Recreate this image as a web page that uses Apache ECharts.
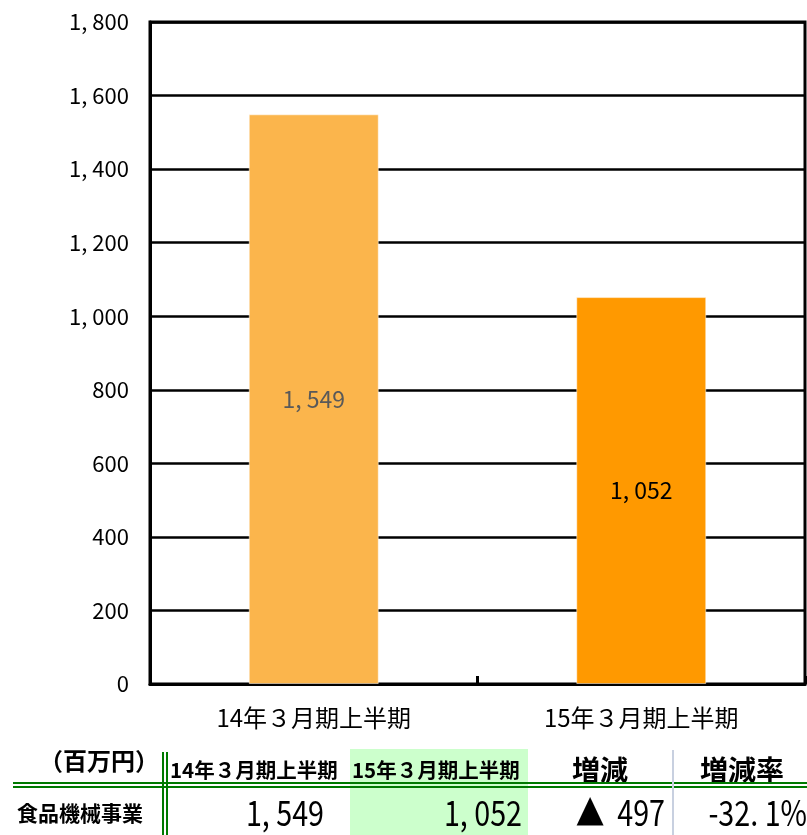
<!DOCTYPE html>
<html>
<head>
<meta charset="utf-8">
<script src="https://cdn.jsdelivr.net/npm/echarts@6/dist/echarts.min.js"></script>
<style>
  html, body { margin: 0; padding: 0; background: #fff; }
  #chart { width: 807px; height: 835px; }
</style>
</head>
<body>
<div id="chart"></div>
<script>
// data
const categories = ['14年３月期上半期', '15年３月期上半期']
const values = [1549, 1052]
const barColors = ['#FBB54C', '#FF9900']
const labelColors = ['#595959', '#000000']
const yTicks = [0, 200, 400, 600, 800, 1000, 1200, 1400, 1600, 1800]
const unitLabel = '（百万円）'
const rowLabel = '食品機械事業'
const diffHeaders = ['増減', '増減率']

const NUM_FONT = "'Liberation Sans Narrow', 'Noto Sans CJK JP', sans-serif"
const fmt = (v) => Math.abs(v).toLocaleString('en-US').replace(',', ', ')

const diff = values[1] - values[0]
const rate = (diff / values[0] * 100).toFixed(1)
const diffText = (diff < 0 ? '▲  ' : '') + fmt(diff)
const rateText = rate.replace('.', '. ') + '%'

const chart = echarts.init(document.getElementById('chart'))

const txt = (x, y, text, size, opts = {}, scaleX = 1) => ({
  type: 'text',
  x, y,
  scaleX,
  style: Object.assign({
    text,
    fontSize: size,
    fontFamily: NUM_FONT,
    fill: '#000',
    align: 'left',
    verticalAlign: 'middle'
  }, opts)
})

const line = (x1, y1, x2, y2, stroke, w) => ({
  type: 'line',
  shape: { x1, y1, x2, y2 },
  style: { stroke, lineWidth: w }
})

chart.setOption({
  animation: false,
  grid: {
    left: 150,
    right: 2,
    top: 22,
    bottom: 151,
    show: true,
    borderColor: '#000',
    borderWidth: 3
  },
  xAxis: {
    type: 'category',
    data: categories,
    axisLine: { lineStyle: { color: '#000', width: 3 } },
    axisTick: { show: true, inside: true, length: 8, lineStyle: { color: '#000', width: 3 } },
    axisLabel: {
      fontSize: 24,
      fontFamily: NUM_FONT,
      color: '#000',
      margin: 22
    }
  },
  yAxis: {
    type: 'value',
    min: yTicks[0],
    max: yTicks[yTicks.length - 1],
    interval: 200,
    axisLine: { show: true, lineStyle: { color: '#000', width: 3 } },
    axisTick: { show: false },
    splitLine: { lineStyle: { color: '#000', width: 2.5 } },
    axisLabel: {
      fontSize: 22,
      fontFamily: NUM_FONT,
      color: '#000',
      margin: 21,
      formatter: (v) => fmt(v)
    }
  },
  series: [
    {
      type: 'bar',
      barWidth: 130,
      data: values.map((v, i) => ({
        value: v,
        itemStyle: { color: barColors[i], borderColor: 'rgba(255,255,255,0.5)', borderWidth: 1 },
        label: { color: labelColors[i] }
      })),
      label: {
        show: true,
        position: 'inside',
        fontSize: 23,
        fontFamily: NUM_FONT,
        formatter: (p) => fmt(p.value)
      }
    }
  ],
  graphic: [
    // table background for current period
    { type: 'rect', shape: { x: 350, y: 749, width: 178, height: 86 }, style: { fill: '#CCFFCC' } },
    // header row
    txt(39, 761, unitLabel, 24, { fontWeight: 'bold' }),
    txt(170, 770, categories[0], 20.5, { fontWeight: 'bold' }),
    txt(352, 770, categories[1], 20.5, { fontWeight: 'bold' }),
    txt(600, 770, diffHeaders[0], 28, { fontWeight: 'bold', align: 'center' }),
    txt(742, 770, diffHeaders[1], 28, { fontWeight: 'bold', align: 'center' }),
    // double green rules
    line(13, 783, 807, 783, '#007A00', 2),
    line(13, 787, 807, 787, '#007A00', 2),
    line(163, 752, 163, 835, '#007A00', 2),
    line(167, 752, 167, 835, '#007A00', 2),
    line(673, 750, 673, 835, '#C8D0E0', 2),
    // data row
    txt(17, 813, rowLabel, 21, { fontWeight: 'bold' }),
    txt(324, 813, fmt(values[0]), 35, { align: 'right' }, 0.82),
    txt(522, 813, fmt(values[1]), 35, { align: 'right' }, 0.82),
    txt(665, 813, diffText, 35, { align: 'right' }, 0.82),
    txt(807, 813, rateText, 35, { align: 'right' }, 0.82)
  ]
})
</script>
</body>
</html>
